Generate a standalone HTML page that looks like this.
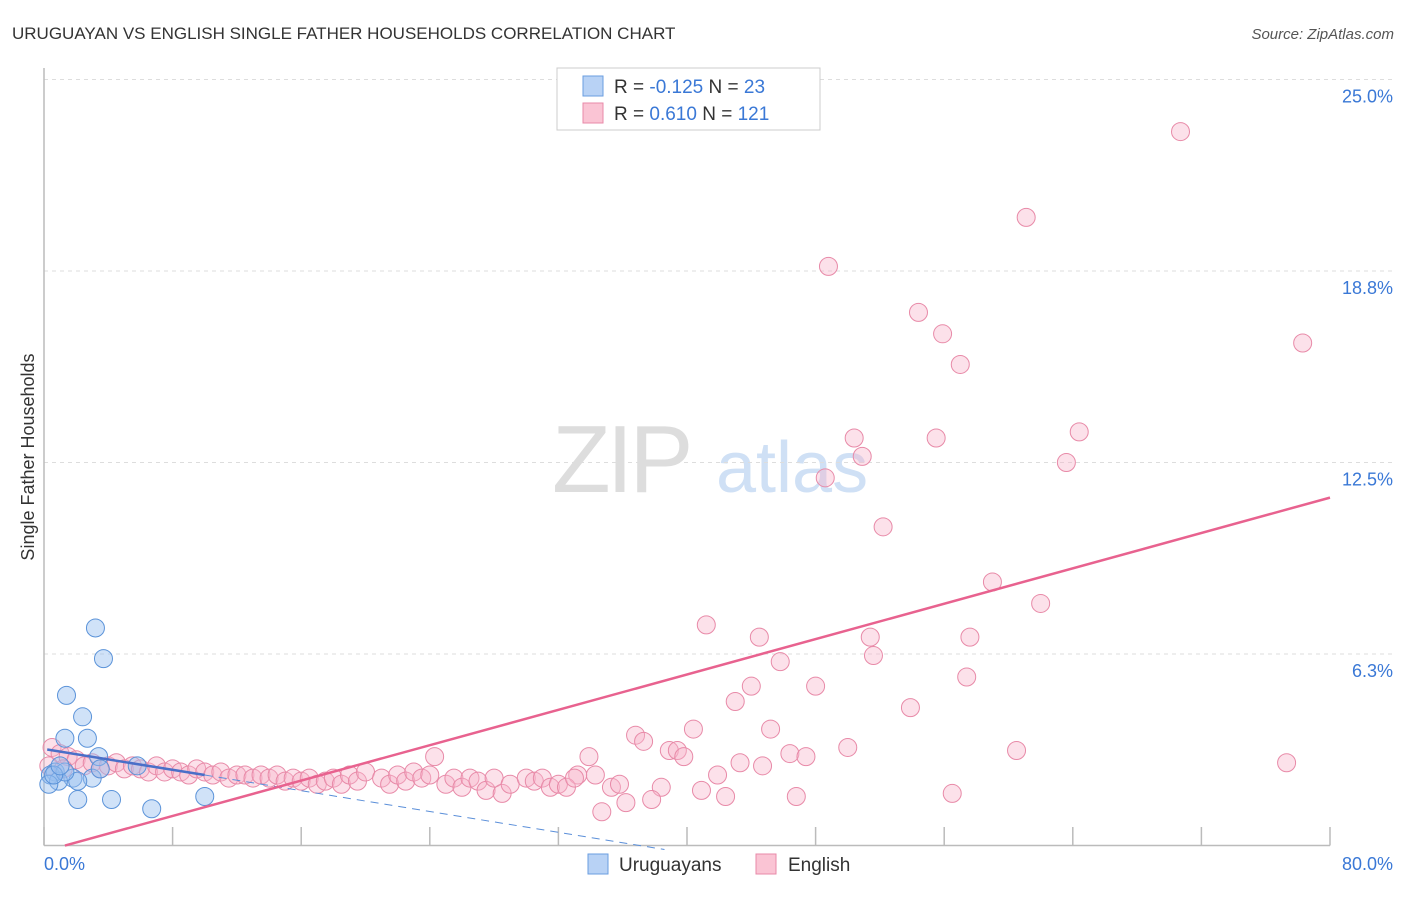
<!DOCTYPE html>
<html><head><meta charset="utf-8"><style>
body{margin:0;background:#fff;font-family:"Liberation Sans",sans-serif;}
svg text{font-family:"Liberation Sans",sans-serif;}
</style></head><body>
<svg id="chart" width="1406" height="892" xmlns="http://www.w3.org/2000/svg">
<text x="12" y="39" font-size="17" fill="#333">URUGUAYAN VS ENGLISH SINGLE FATHER HOUSEHOLDS CORRELATION CHART</text>
<text x="1394" y="39" font-size="15" fill="#555" text-anchor="end" font-style="italic">Source: ZipAtlas.com</text>
<g>
<text x="552" y="492" font-size="96" fill="#ddd" font-family="Liberation Serif" letter-spacing="-4">ZIP</text>
<text x="716" y="492" font-size="72" fill="#cfe0f5">atlas</text>
</g>
<g id="grid"></g>
<g id="axes"></g>
<g id="marks"></g>
<text transform="translate(34,457) rotate(-90)" font-size="18" fill="#333" text-anchor="middle">Single Father Households</text>
<g>
<rect x="557" y="68" width="263" height="62" fill="#fff" stroke="#ccc"/>
<rect x="583" y="76" width="20" height="20" fill="#b8d2f5" stroke="#6a9ee0"/>
<rect x="583" y="103" width="20" height="20" fill="#fac4d4" stroke="#e88aa8"/>
<text x="614" y="93" font-size="19" fill="#333">R = <tspan fill="#3a78d6">-0.125</tspan>   N = <tspan fill="#3a78d6">23</tspan></text>
<text x="614" y="120" font-size="19" fill="#333">R =   <tspan fill="#3a78d6">0.610</tspan>   N = <tspan fill="#3a78d6">121</tspan></text>
</g>
<g>
<rect x="588" y="854" width="20" height="20" fill="#b8d2f5" stroke="#6a9ee0"/>
<text x="619" y="871" font-size="19" fill="#333">Uruguayans</text>
<rect x="756" y="854" width="20" height="20" fill="#fac4d4" stroke="#e88aa8"/>
<text x="788" y="871" font-size="19" fill="#333">English</text>
</g>
</svg>
<script>
const xTicks=[0,8,16,24,32,40,48,56,64,72,80];
const yTicks=[6.25,12.5,18.75,25];
const yTickLabels=["6.3%","12.5%","18.8%","25.0%"];
const uruX=[3.2,3.7,1.4,2.4,2.7,1.3,3.4,1.8,3.0,0.7,0.4,0.9,2.1,2.1,4.2,6.7,10.0,5.8,3.5,1.3,0.3,0.6,1.0];
const uruY=[7.1,6.1,4.9,4.2,3.5,3.5,2.9,2.2,2.2,2.4,2.3,2.1,2.1,1.5,1.5,1.2,1.6,2.6,2.5,2.4,2.0,2.3,2.6];
const engX=[70.7,61.1,48.8,54.4,55.9,57.0,78.3,50.4,55.5,50.9,64.4,63.6,48.6,52.2,59.0,62.0,41.2,44.5,51.4,57.6,51.6,45.8,57.4,44.0,48.0,43.0,53.9,40.4,45.2,36.8,37.3,38.9,39.4,39.8,50.0,46.4,47.4,60.5,24.3,33.9,43.3,44.7,77.3,41.9,34.3,33.2,38.4,40.9,42.4,46.8,56.5,36.2,37.8,34.7,35.3,35.8,
0.5,1,1.5,2,2.5,3,3.5,4,4.5,5,5.5,6,6.5,7,7.5,8,8.5,9,9.5,10,10.5,11,11.5,12,12.5,13,13.5,14,14.5,15,15.5,16,16.5,17,17.5,18,18.5,19,19.5,20,21,21.5,22,22.5,23,23.5,24,25,25.5,26,26.5,27,27.5,28,28.5,29,30,30.5,31,31.5,32,32.5,33,0.3,1.2];
const engY=[23.3,20.5,18.9,17.4,16.7,15.7,16.4,13.3,13.3,12.7,13.5,12.5,12.0,10.4,8.6,7.9,7.2,6.8,6.8,6.8,6.2,6.0,5.5,5.2,5.2,4.7,4.5,3.8,3.8,3.6,3.4,3.1,3.1,2.9,3.2,3.0,2.9,3.1,2.9,2.9,2.7,2.6,2.7,2.3,2.3,2.3,1.9,1.8,1.6,1.6,1.7,1.4,1.5,1.1,1.9,2.0,
3.2,3.0,2.9,2.8,2.6,2.7,2.5,2.6,2.7,2.5,2.6,2.5,2.4,2.6,2.4,2.5,2.4,2.3,2.5,2.4,2.3,2.4,2.2,2.3,2.3,2.2,2.3,2.2,2.3,2.1,2.2,2.1,2.2,2.0,2.1,2.2,2.0,2.3,2.1,2.4,2.2,2.0,2.3,2.1,2.4,2.2,2.3,2.0,2.2,1.9,2.2,2.1,1.8,2.2,1.7,2.0,2.2,2.1,2.2,1.9,2.0,1.9,2.2,2.6,2.5];
const uruTrend={slope:-0.085,intercept:3.15,solidEnd:10,end:38.6};
const engTrend={slope:0.1443,intercept:-0.19,start:1.3,end:80};
const NS="http://www.w3.org/2000/svg";
const X0=44,X1=1330,Y0=845.5,Y1=79.5;
const sx=v=>X0+(v/80)*(X1-X0);
const sy=v=>Y0-(v/25)*(Y0-Y1);
function mk(tag,attrs,parent){const e=document.createElementNS(NS,tag);for(const k in attrs)e.setAttribute(k,attrs[k]);parent.appendChild(e);return e;}
const grid=document.getElementById('grid'),axes=document.getElementById('axes'),marks=document.getElementById('marks');
yTicks.forEach((t,i)=>{
 const l=mk('line',{x1:X0,x2:1394,y1:sy(t),y2:sy(t),stroke:'#ddd','stroke-dasharray':'4,4'},grid);
 
 
 const tx=mk('text',{x:1393,y:sy(t)+23,'font-size':18,fill:'#3a78d6','text-anchor':'end'},axes);
 tx.textContent=yTickLabels[i];
 
 
});
mk('line',{x1:X0,x2:X0,y1:68,y2:Y0,stroke:'#bbb','stroke-width':1.5},axes);
mk('line',{x1:X0,x2:X1,y1:Y0,y2:Y0,stroke:'#bbb','stroke-width':1.5},axes);
xTicks.forEach(t=>{
 const l=mk('line',{x1:sx(t),x2:sx(t),y1:827,y2:Y0,stroke:'#bbb','stroke-width':1.5},axes);
 
 
});
const xl0=mk('text',{x:44,y:870,'font-size':18,fill:'#3a78d6'},axes);xl0.textContent='0.0%';


const xl1=mk('text',{x:1393,y:870,'font-size':18,fill:'#3a78d6','text-anchor':'end'},axes);xl1.textContent='80.0%';


engX.forEach((x,i)=>{
 const c=mk('circle',{cx:sx(x),cy:sy(engY[i]),r:9,fill:'rgba(248,180,202,0.4)',stroke:'#e88aa8','stroke-width':1},marks);
 
 
});
uruX.forEach((x,i)=>{
 const c=mk('circle',{cx:sx(x),cy:sy(uruY[i]),r:9,fill:'rgba(150,190,240,0.45)',stroke:'#5b93d9','stroke-width':1},marks);
 
 
});
const ut=t=>uruTrend.intercept+uruTrend.slope*t;
const u1=mk('line',{x1:sx(0.2),y1:sy(ut(0.2)),x2:sx(uruTrend.solidEnd),y2:sy(ut(uruTrend.solidEnd)),stroke:'#4a6fc8','stroke-width':2.5},marks);


const u2=mk('line',{x1:sx(uruTrend.solidEnd),y1:sy(ut(uruTrend.solidEnd)),x2:sx(uruTrend.end),y2:sy(ut(uruTrend.end)),stroke:'#5b8fd9','stroke-width':1,'stroke-dasharray':'8,6'},marks);


const et=t=>engTrend.intercept+engTrend.slope*t;
const e1=mk('line',{x1:sx(engTrend.start),y1:sy(et(engTrend.start)),x2:sx(engTrend.end),y2:sy(et(engTrend.end)),stroke:'#e8628f','stroke-width':2.5},marks);


</script>
</body></html>
